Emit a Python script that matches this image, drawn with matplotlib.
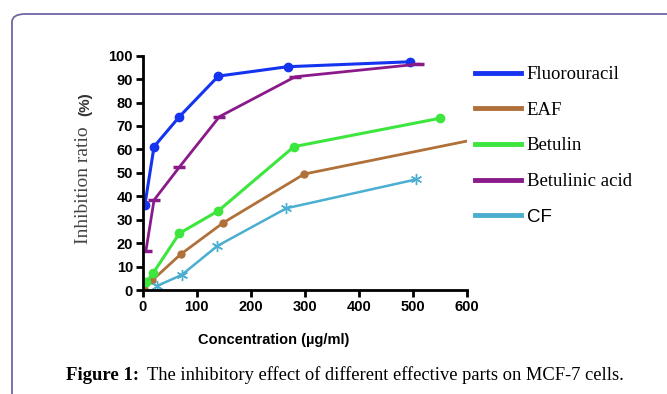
import matplotlib
matplotlib.use("Agg")
import matplotlib.pyplot as plt
from matplotlib.lines import Line2D
from matplotlib.patches import FancyBboxPatch

# values (concentration in ug/ml, inhibition in %)
fluoro_x = [4, 21, 68, 140, 268, 494]
fluoro_y = [36.3, 61.2, 74.0, 91.3, 95.3, 97.4]

eaf_x = [2, 18, 70, 149, 299, 620]
eaf_y = [0.5, 4.2, 15.2, 28.7, 49.5, 64.5]

betulin_x = [7, 19, 68, 140, 280, 550]
betulin_y = [3.5, 7.1, 24.2, 33.8, 61.2, 73.3]

betacid_x = [6, 21, 68, 142, 282, 510]
betacid_y = [16.8, 38.4, 52.5, 74.0, 91.0, 96.4]

cf_x = [27, 72, 138, 266, 506]
cf_y = [1.8, 6.4, 18.8, 34.9, 47.2]

labels = ["Fluorouracil", "EAF", "Betulin", "Betulinic acid", "CF"]
colors = ["#1434f0", "#b0703a", "#3ce63c", "#8a1a8a", "#4aaed0"]

W, H = 667, 394
fig = plt.figure(figsize=(W / 100, H / 100), dpi=100)

# rounded frame around the figure panel
frame = FancyBboxPatch((12 / W, -0.2), 1.2, (H - 14) / H + 0.2,
                       boxstyle="round,pad=0,rounding_size=0.02",
                       transform=fig.transFigure, fill=False,
                       edgecolor="#7066a6", linewidth=1.3)
fig.patches.append(frame)

ax = fig.add_axes([142.7 / W, (H - 290) / H, (467 - 142.7) / W, (290 - 55.7) / H])

ax.plot(fluoro_x, fluoro_y, color=colors[0], lw=2.2, marker="o", ms=6)
ax.plot(eaf_x, eaf_y, color=colors[1], lw=2.0, marker="o", ms=5)
ax.plot(betulin_x, betulin_y, color=colors[2], lw=2.2, marker="o", ms=6)
ax.plot(betacid_x, betacid_y, color=colors[3], lw=2.0, marker="_", ms=9, mew=2.5)
ax.plot(cf_x, cf_y, color=colors[4], lw=1.8, marker=(6, 2, 0), ms=8, mew=1.0)

ax.set_xlim(0, 600)
ax.set_ylim(0, 100)
ax.set_xticks(range(0, 601, 100))
ax.set_yticks(range(0, 101, 10))
for s in ["top", "right"]:
    ax.spines[s].set_visible(False)
for s in ["left", "bottom"]:
    ax.spines[s].set_linewidth(2.0)
ax.tick_params(width=2.0, length=5, direction="out", pad=2)
for lab in ax.get_xticklabels() + ax.get_yticklabels():
    lab.set_fontfamily("Liberation Sans")
    lab.set_fontweight("bold")
    lab.set_fontsize(10.5)

fig.text(274 / W, 1 - 340 / H, "Concentration (\u00b5g/ml)", ha="center", va="center",
         fontfamily="Liberation Sans", fontweight="bold", fontsize=10.5)
fig.text(84 / W, 1 - 185 / H, "Inhibition ratio", rotation=90, ha="center", va="center",
         fontfamily="Liberation Serif", fontsize=14, color="#444444")
fig.text(85 / W, 1 - 104 / H, "(%)", rotation=90, ha="center", va="center",
         fontfamily="Liberation Sans", fontweight="bold", fontsize=11, color="#333333")

# legend (lines only, no markers)
handles = [Line2D([], [], color=c, lw=3.5) for c in colors]
leg = fig.legend(handles, labels, loc="upper left", bbox_to_anchor=(467.5 / W, 1 - 58.5 / H),
                 frameon=False, borderaxespad=0, borderpad=0.4,
                 handlelength=2.45, handletextpad=0.32, labelspacing=0.99,
                 prop={"family": "Liberation Serif", "size": 13.5})
leg.get_texts()[-1].set_fontfamily("Liberation Sans")

fig.text(66 / W, 1 - 375 / H, "Figure 1:", ha="left", va="center",
         fontsize=13.5, fontfamily="Liberation Serif", fontweight="bold")
fig.text(147 / W, 1 - 375 / H, "The inhibitory effect of different effective parts on MCF-7 cells.",
         ha="left", va="center", fontsize=13.3, fontfamily="Liberation Serif")

fig.savefig("out.png", dpi=100)
